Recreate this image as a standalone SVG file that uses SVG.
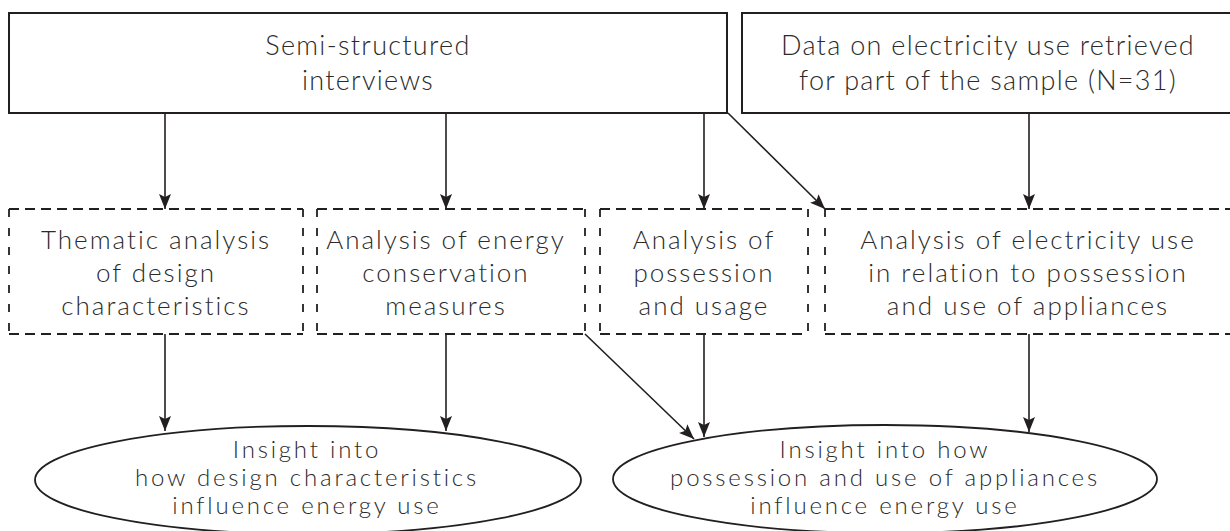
<svg xmlns="http://www.w3.org/2000/svg" width="1230" height="531" viewBox="0 0 1230 531">
  <style>
    .solid { fill: #ffffff; stroke: #231f20; stroke-width: 2; }
    .dh { fill: none; stroke: #231f20; stroke-width: 1.8; stroke-dasharray: 10 6; }
    .dv { fill: none; stroke: #231f20; stroke-width: 1.8; stroke-dasharray: 8 11; }
    .oval { fill: #ffffff; stroke: #231f20; stroke-width: 1.8; }
    .lbl { font-family: Lato, "Open Sans", sans-serif; font-weight: 300; fill: #2b2b2b; text-anchor: middle; }
    .big { font-size: 27px; letter-spacing: 1.3px; }
    .mid { font-size: 26px; letter-spacing: 2px; }
    .sm { font-size: 24px; letter-spacing: 2.8px; }
    .edge { fill: none; stroke: #231f20; stroke-width: 1.6; marker-end: url(#head); }
  </style>
  <defs>
    <marker id="head" markerUnits="userSpaceOnUse" markerWidth="16" markerHeight="13" refX="15" refY="6.5" orient="auto">
      <path d="M0,0.5 L15,6.5 L0,12.5 L3,6.5 Z" fill="#231f20"/>
    </marker>
  </defs>
  <rect width="1230" height="531" fill="#ffffff"/>

  <!-- source boxes -->
  <g id="interviews">
    <rect class="solid" x="9" y="13" width="718" height="100"/>
    <text class="lbl big" x="368" y="55">Semi-structured</text>
    <text class="lbl big" x="368" y="90">interviews</text>
  </g>
  <g id="electricity-data">
    <rect class="solid" x="742" y="13" width="492" height="100"/>
    <text class="lbl big" x="988" y="55">Data on electricity use retrieved</text>
    <text class="lbl big" x="988" y="90">for part of the sample (N=31)</text>
  </g>

  <!-- analysis steps (dashed boxes) -->
  <g id="thematic">
    <path class="dh" d="M9,209 H303 M9,334 H303"/>
    <path class="dv" d="M9,209 V334 M303,209 V334"/>
    <text class="lbl mid" x="156" y="249">Thematic analysis</text>
    <text class="lbl mid" x="156" y="282">of design</text>
    <text class="lbl mid" x="156" y="315">characteristics</text>
  </g>
  <g id="conservation">
    <path class="dh" d="M317,209 H585 M317,334 H585"/>
    <path class="dv" d="M317,209 V334 M585,209 V334"/>
    <text class="lbl mid" x="446" y="249">Analysis of energy</text>
    <text class="lbl mid" x="446" y="282">conservation</text>
    <text class="lbl mid" x="446" y="315">measures</text>
  </g>
  <g id="possession">
    <path class="dh" d="M600,209 H808 M600,334 H808"/>
    <path class="dv" d="M600,209 V334 M808,209 V334"/>
    <text class="lbl mid" x="704" y="249">Analysis of</text>
    <text class="lbl mid" x="704" y="282">possession</text>
    <text class="lbl mid" x="704" y="315">and usage</text>
  </g>
  <g id="electricity-analysis">
    <path class="dh" d="M825,209 H1232 M825,334 H1232"/>
    <path class="dv" d="M825,209 V334"/>
    <text class="lbl mid" x="1028" y="249">Analysis of electricity use</text>
    <text class="lbl mid" x="1028" y="282">in relation to possession</text>
    <text class="lbl mid" x="1028" y="315">and use of appliances</text>
  </g>

  <!-- outcomes -->
  <g id="design-insight">
    <ellipse class="oval" cx="308" cy="480" rx="273" ry="54"/>
    <text class="lbl sm" x="307" y="458">Insight into</text>
    <text class="lbl sm" x="307" y="486">how design characteristics</text>
    <text class="lbl sm" x="307" y="514">influence energy use</text>
  </g>
  <g id="appliance-insight">
    <ellipse class="oval" cx="885" cy="479" rx="272" ry="54"/>
    <text class="lbl sm" x="885" y="458">Insight into how</text>
    <text class="lbl sm" x="885" y="486">possession and use of appliances</text>
    <text class="lbl sm" x="885" y="514">influence energy use</text>
  </g>

  <!-- connectors -->
  <g id="connectors">
    <line class="edge" x1="165" y1="113" x2="165" y2="209"/>
    <line class="edge" x1="446" y1="113" x2="446" y2="209"/>
    <line class="edge" x1="704" y1="113" x2="704" y2="209"/>
    <line class="edge" x1="728" y1="113" x2="825" y2="209"/>
    <line class="edge" x1="1029" y1="113" x2="1029" y2="209"/>
    <line class="edge" x1="165" y1="334" x2="165" y2="431"/>
    <line class="edge" x1="446" y1="334" x2="446" y2="431"/>
    <line class="edge" x1="585" y1="334" x2="694" y2="439"/>
    <line class="edge" x1="704" y1="334" x2="704" y2="437"/>
    <line class="edge" x1="1029" y1="334" x2="1029" y2="432"/>
  </g>
</svg>
